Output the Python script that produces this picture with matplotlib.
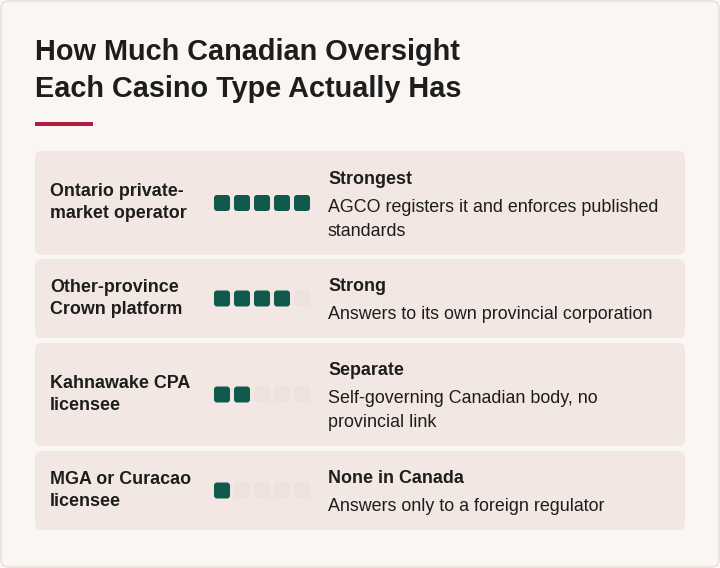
import matplotlib.pyplot as plt
from matplotlib.patches import FancyBboxPatch

TITLE = ["How Much Canadian Oversight", "Each Casino Type Actually Has"]
LABELS = [
    ["Ontario private-", "market operator"],
    ["Other-province", "Crown platform"],
    ["Kahnawake CPA", "licensee"],
    ["MGA or Curacao", "licensee"],
]
SCORES = [5, 4, 2, 1]
MAX_SCORE = 5
LEVELS = ["Strongest", "Strong", "Separate", "None in Canada"]
NOTES = [
    ["AGCO registers it and enforces published", "standards"],
    ["Answers to its own provincial corporation"],
    ["Self-governing Canadian body, no", "provincial link"],
    ["Answers only to a foreign regulator"],
]

# layout in pixels (top, bottom) of each row
ROWS = [(151, 255), (259, 338), (343, 446), (451, 530)]

BG = "#faf6f3"
ROW_BG = "#f3e7e3"
ON = "#0f5a4c"
OFF = "#ede2de"
TEXT = "#1d1d1d"
ACCENT = "#b3183f"

plt.rcParams["font.family"] = ["Liberation Sans", "DejaVu Sans"]

fig = plt.figure(figsize=(7.2, 5.68), dpi=100)
fig.patch.set_facecolor(BG)
ax = fig.add_axes([0, 0, 1, 1])
ax.set_xlim(0, 720)
ax.set_ylim(568, 0)
ax.axis("off")

ax.add_patch(FancyBboxPatch((1, 1), 718, 566, boxstyle="round,pad=0,rounding_size=8",
                            facecolor=BG, edgecolor="#eadcd6", linewidth=1))

ax.text(35, 52, TITLE[0], fontsize=20.8, fontweight="bold", color=TEXT, va="center")
ax.text(35, 89, TITLE[1], fontsize=20.8, fontweight="bold", color=TEXT, va="center")
ax.add_patch(plt.Rectangle((35, 122), 58, 4, facecolor=ACCENT, edgecolor="none"))

for (top, bot), label, score, level, note in zip(ROWS, LABELS, SCORES, LEVELS, NOTES):
    mid = (top + bot) / 2
    ax.add_patch(FancyBboxPatch((35, top), 650, bot - top,
                                boxstyle="round,pad=0,rounding_size=6",
                                facecolor=ROW_BG, edgecolor="none"))
    for i, line in enumerate(label):
        ax.text(50, mid - 11 + 22 * i, line, fontsize=12.9, fontweight="bold",
                color=TEXT, va="center")
    for k in range(MAX_SCORE):
        ax.add_patch(FancyBboxPatch((214 + 20 * k, mid - 8), 16, 16,
                                    boxstyle="round,pad=0,rounding_size=3",
                                    facecolor=ON if k < score else OFF,
                                    edgecolor="none"))
    n = 1 + len(note)
    y0 = mid - (n - 1) * 12
    ax.text(328, y0, level, fontsize=12.9, fontweight="bold", color=TEXT, va="center")
    for i, line in enumerate(note):
        ax.text(328, y0 + 28 + 24 * i, line, fontsize=12.9, color=TEXT, va="center")

fig.savefig("out.png", dpi=100, facecolor=BG)
